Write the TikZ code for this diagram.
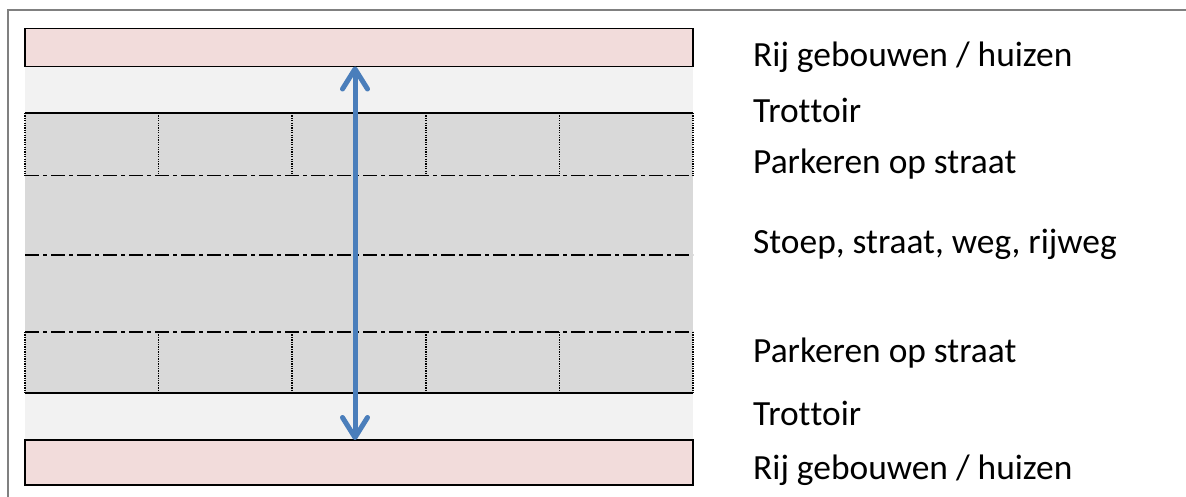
\documentclass[tikz,border=0pt]{standalone}
\usepackage{fontspec}
\setmainfont{Carlito}[Ligatures=NoCommon, Contextuals=NoAlternate]
\usetikzlibrary{arrows.meta}
\definecolor{pinkfill}{HTML}{F2DCDB}
\definecolor{walkfill}{HTML}{F2F2F2}
\definecolor{roadfill}{HTML}{D9D9D9}
\definecolor{arrowblue}{HTML}{4A7EBB}
\definecolor{framegray}{HTML}{808080}
\tikzset{
  building/.style={draw=black, line width=1.8pt, fill=pinkfill},
  walkband/.style={fill=walkfill},
  roadband/.style={fill=roadfill},
  laneline/.style={black, line width=1.7pt, dash pattern=on 14pt off 4pt on 4pt off 4pt},
  bayline/.style={black, line width=1.6pt, dash pattern=on 1.3pt off 1.1pt},
  kerb/.style={black, line width=1.6pt},
  lbl/.style={anchor=base west, inner sep=0pt, font=\fontsize{35.4}{40}\selectfont},
  widtharrow/.style={arrowblue, line width=5pt,
    {Straight Barb[length=20pt,width=25pt,round]}-{Straight Barb[length=20pt,width=25pt,round]}}
}
\begin{document}
\begin{tikzpicture}[x=1pt,y=-1pt]
\useasboundingbox (0,0) rectangle (1186,497);
\fill[white] (0,0) rectangle (1186,497);
\draw[framegray, line width=2pt] (8,10) rectangle (1210,530);
% sidewalks
\fill[walkband] (25,66) rectangle (693,113);
\fill[walkband] (25,393) rectangle (693,440);
% road + parking
\fill[roadband] (25,113) rectangle (693,393);
% parking bay separators
\foreach \x in {25,158.6,292.2,425.8,559.4,693}{
  \draw[bayline] (\x,113) -- (\x,175.5);
  \draw[bayline] (\x,332) -- (\x,393);
}
% kerbs
\draw[kerb] (25,113) -- (693,113);
\draw[kerb] (25,393) -- (693,393);
% lane lines
\draw[laneline] (25,175.5) -- (693,175.5);
\draw[laneline] (25,255) -- (693,255);
\draw[laneline] (25,332) -- (693,332);
% buildings
\draw[building] (25,28.5) rectangle (693,66.5);
\draw[building] (25,440) rectangle (693,485);
% arrow
\coordinate (atop) at (355,66.5);
\coordinate (abot) at (355,440);
\draw[widtharrow] (atop) -- (abot);
% labels
\node[lbl] (l1) at (753,66.5) {Rij gebouwen / huizen};
\node[lbl] (l2) at (753,123) {Trot\kern0pt{}toir};
\node[lbl] (l3) at (753,174) {Parkeren op straat};
\node[lbl] (l4) at (753,254) {Stoep, straat, weg, rijweg};
\node[lbl] (l5) at (753,362) {Parkeren op straat};
\node[lbl] (l6) at (753,425) {Trot\kern0pt{}toir};
\node[lbl] (l7) at (753,479) {Rij gebouwen / huizen};
\end{tikzpicture}
\end{document}
